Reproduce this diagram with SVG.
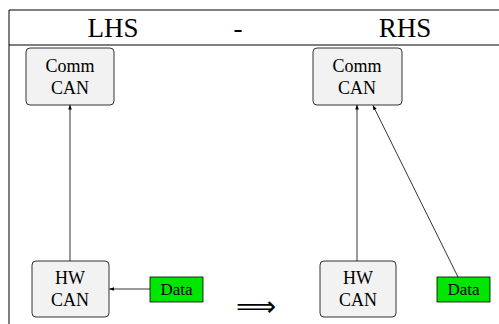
<svg xmlns="http://www.w3.org/2000/svg" width="499" height="324" viewBox="0 0 499 324">
<style>
.frame{stroke:#000;stroke-width:1;fill:none}
.node{fill:#f2f2f2;stroke:#000;stroke-width:0.8}
.data{fill:#00e600;stroke:#000;stroke-width:0.8}
.t{font-size:18px;text-anchor:middle;fill:#000}
.d{font-size:17px;text-anchor:middle;fill:#000}
.h{font-size:27px;text-anchor:middle;fill:#000}
.edge{stroke:#000;stroke-width:0.8;fill:none;marker-end:url(#ah)}
</style>
<defs>
<marker id="ah" viewBox="0 0 6 6" refX="5.5" refY="3" markerWidth="5" markerHeight="5" orient="auto" markerUnits="userSpaceOnUse">
<path d="M0,0.8 L6,3 L0,5.2 Z" fill="#000"/>
</marker>
</defs>
<g id="table" font-family="Liberation Serif, DejaVu Serif, serif">
<line class="frame" x1="9" y1="10" x2="499" y2="10"/>
<line class="frame" x1="9" y1="45" x2="499" y2="45"/>
<line class="frame" x1="9" y1="10" x2="9" y2="324"/>
<text class="h" x="113" y="37">LHS</text>
<text class="h" x="238" y="37">-</text>
<text class="h" x="405" y="37">RHS</text>
</g>
<g id="connectors">
<line class="edge" x1="70" y1="261" x2="70" y2="105"/>
<line class="edge" x1="150" y1="289" x2="109.5" y2="289"/>
<line class="edge" x1="357" y1="261" x2="357" y2="105"/>
<line class="edge" x1="458" y1="277" x2="373" y2="105.5"/>
</g>
<g id="lhs-comm" font-family="Liberation Serif, DejaVu Serif, serif">
<rect class="node" x="26" y="48" width="88" height="57" rx="4"/>
<text class="t" x="70" y="72">Comm</text>
<text class="t" x="70" y="94">CAN</text>
</g>
<g id="rhs-comm" font-family="Liberation Serif, DejaVu Serif, serif">
<rect class="node" x="313" y="48" width="89" height="57" rx="4"/>
<text class="t" x="357" y="72">Comm</text>
<text class="t" x="357" y="94">CAN</text>
</g>
<g id="lhs-hw" font-family="Liberation Serif, DejaVu Serif, serif">
<rect class="node" x="32" y="261" width="77" height="56" rx="4"/>
<text class="t" x="70" y="284">HW</text>
<text class="t" x="70" y="306">CAN</text>
</g>
<g id="rhs-hw" font-family="Liberation Serif, DejaVu Serif, serif">
<rect class="node" x="320" y="261" width="76" height="56" rx="4"/>
<text class="t" x="358" y="284">HW</text>
<text class="t" x="358" y="306">CAN</text>
</g>
<g id="lhs-data" font-family="Liberation Serif, DejaVu Serif, serif">
<rect class="data" x="150" y="277" width="53" height="25"/>
<text class="d" x="176.5" y="295">Data</text>
</g>
<g id="rhs-data" font-family="Liberation Serif, DejaVu Serif, serif">
<rect class="data" x="437" y="277" width="53" height="25"/>
<text class="d" x="463.5" y="295">Data</text>
</g>
<g id="implies">
<text x="256" y="316" font-family="DejaVu Sans, sans-serif" font-size="28" text-anchor="middle">⟹</text>
</g>
</svg>
